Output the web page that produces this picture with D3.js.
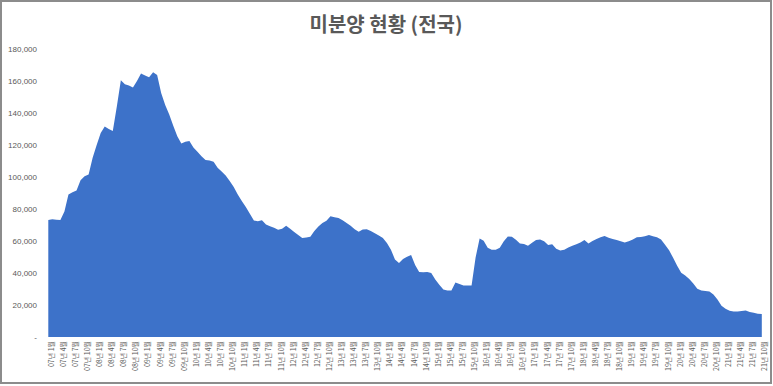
<!DOCTYPE html>
<html>
<head>
<meta charset="utf-8">
<script src="https://cdn.jsdelivr.net/npm/d3@7"></script>
<style>
    body { margin: 0; background: #fff; }
    svg { display: block; }
</style>
</head>
<body>
<svg class="chart" width="773" height="386"></svg>
<script>
// 월별 미분양 주택 수 (07년 1월 ~ 21년 10월)
var startYear = 7, startMonth = 1;
var unsold = [
    73100, 73600, 73300, 73200, 78500, 89000, 90500, 91500, 98000, 100500, 101600, 112000,
    120000, 127500, 131500, 130000, 128700, 144000, 160500, 158000, 157200, 156000, 160000, 164700,
    163500, 162300, 165500, 163800, 152500, 145000, 139000, 132000, 125500, 121000, 122000, 122500,
    118500, 115800, 113000, 110700, 110300, 109500, 105800, 103500, 101000, 97500, 93700, 89000,
    85000, 81200, 77000, 72800, 72300, 73000, 70300, 69200, 68300, 67000, 67700, 69500,
    67700, 65600, 63700, 61800, 62200, 62700, 66300, 69000, 71200, 72600, 75500, 74900,
    74400, 73000, 71300, 69500, 67400, 65800, 67200, 67400, 66300, 64800, 63400, 61900,
    58800, 54500, 48500, 46200, 48800, 50100, 51200, 45000, 40700, 40400, 40600, 40000,
    36000, 32700, 29700, 29000, 29000, 34000, 33100, 32200, 32200, 32200, 49700, 61500,
    60100, 55800, 54600, 54500, 55800, 59900, 62800, 62600, 60800, 58500, 58100, 57100,
    58900, 60600, 61000, 59800, 57500, 57900, 55200, 54000, 54600, 56000, 57000, 58000,
    59000, 60600, 58500, 60000, 61200, 62300, 63200, 62100, 61200, 60600, 59800, 59000,
    59800, 61000, 62300, 62500, 63000, 63700, 63000, 62300, 61000, 57700, 54200, 49500,
    44500, 40100, 38400, 36200, 33400, 30200, 29100, 28800, 28400, 26600, 23400, 19600,
    17600, 16400, 15900, 16000, 16300, 16500, 15700, 15200, 14600, 14400
];
var yTicks = [0, 20000, 40000, 60000, 80000, 100000, 120000, 140000, 160000, 180000];
var title = "미분양 현황 (전국)";

var chart = {
    width: 773,
    height: 386,
    plot: {left: 48.3, right: 761.8, top: 49, bottom: 337},
    fill: "#3d72c9",

    //월 라벨 만들기
    makeLabels: function(){
        let labels = [];
        for (let i = 0; i < unsold.length; i++){
            let m = startMonth + i;
            let y = startYear + Math.floor((m - 1) / 12);
            let mm = (m - 1) % 12 + 1;
            labels.push((y < 10 ? "0" + y : "" + y) + "년 " + mm + "월");
        }
        return labels;
    },

    draw: function(){
        let svg = d3.select(".chart");
        let labels = chart.makeLabels();

        //테두리
        svg.append("rect")
            .attr("x", 1).attr("y", 1)
            .attr("width", chart.width - 3).attr("height", chart.height - 4)
            .attr("fill", "#fff")
            .attr("stroke", "#8c8c8c")
            .attr("stroke-width", 2);

        //제목
        svg.append("text")
            .attr("x", 386)
            .attr("y", 32)
            .attr("text-anchor", "middle")
            .attr("font-family", "'Noto Sans CJK KR', sans-serif")
            .attr("font-size", 20)
            .attr("font-weight", "bold")
            .attr("fill", "#595959")
            .text(title);

        //비례척
        let xScale = d3.scalePoint()
            .domain(labels)
            .range([chart.plot.left, chart.plot.right]);
        let yScale = d3.scaleLinear()
            .domain([0, 180000])
            .range([chart.plot.bottom, chart.plot.top]);

        //면적
        let area = d3.area()
            .x((d, i) => xScale(labels[i]))
            .y0(yScale(0))
            .y1(d => yScale(d));
        svg.append("path")
            .datum(unsold)
            .attr("d", area)
            .attr("fill", chart.fill);

        //y축
        let yAxis = d3.axisLeft(yScale)
            .tickValues(yTicks)
            .tickSize(0)
            .tickPadding(0)
            .tickFormat(d => d == 0 ? "-" : d3.format(",")(d));
        let gy = svg.append("g")
            .attr("transform", "translate(37,0)")
            .call(yAxis);
        gy.select(".domain").remove();
        gy.selectAll("text")
            .attr("font-family", "'Liberation Sans', Arial, sans-serif")
            .attr("font-size", 8)
            .attr("fill", "#595959");

        //x축 (3개월 간격)
        let xAxis = d3.axisBottom(xScale)
            .tickValues(labels.filter((d, i) => i % 3 == 0))
            .tickSize(0);
        let gx = svg.append("g")
            .attr("transform", "translate(2.5," + (chart.plot.bottom + 4) + ")")
            .call(xAxis);
        gx.select(".domain").remove();
        gx.selectAll("text")
            .attr("font-family", "'Noto Sans CJK KR', sans-serif")
            .attr("font-size", 7)
            .attr("fill", "#595959")
            .attr("text-anchor", "end")
            .attr("transform", "rotate(-90)")
            .attr("x", 0)
            .attr("y", 0)
            .attr("dy", "0.35em");
    }
};
chart.draw();
</script>
</body>
</html>
